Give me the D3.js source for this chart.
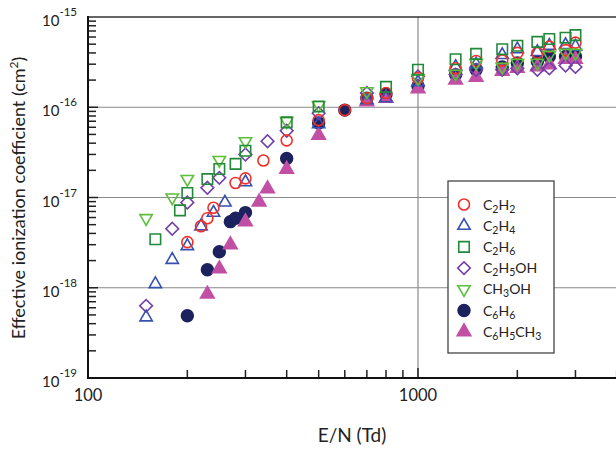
<!DOCTYPE html>
<html><head><meta charset="utf-8">
<script src="https://cdn.jsdelivr.net/npm/d3@7"></script>
<style>body{margin:0;background:#fff}svg{display:block}text{font-family:Lato,"Liberation Sans",sans-serif;fill:#222}</style>
</head><body><svg id="c" width="616" height="451"></svg>
<script>
// Data: [E/N (Td), effective ionization coefficient (cm^2)]
const c2h2 = [[200,3.2e-18],[220,4.8e-18],[230,5.9e-18],[240,7.7e-18],[280,1.45e-17],[300,1.63e-17],[340,2.57e-17],[400,4.3e-17],[500,7.2e-17],[600,9.3e-17],[700,1.26e-16],[800,1.44e-16],[1000,2.1e-16],[1300,2.7e-16],[1500,3.26e-16],[1800,3.3e-16],[2000,4.0e-16],[2300,4.0e-16],[2500,4.7e-16],[2800,4.3e-16],[3000,5.2e-16]];
const c2h4 = [[150,4.7e-19],[160,1.1e-18],[180,2.04e-18],[200,2.9e-18],[220,4.8e-18],[240,6.8e-18],[260,8.8e-18],[300,1.48e-17],[500,6.5e-17],[700,1.2e-16],[800,1.26e-16],[1000,1.9e-16],[1300,2.8e-16],[1500,3.0e-16],[1800,3.8e-16],[2000,4.4e-16],[2300,4.1e-16],[2500,4.8e-16],[2800,4.9e-16],[3000,4.7e-16]];
const c2h6 = [[160,3.45e-18],[190,7.2e-18],[200,1.12e-17],[230,1.6e-17],[250,2.07e-17],[280,2.36e-17],[300,3.3e-17],[400,6.8e-17],[500,1.02e-16],[800,1.68e-16],[1000,2.6e-16],[1300,3.4e-16],[1500,3.9e-16],[1800,4.4e-16],[2000,4.8e-16],[2300,5.3e-16],[2500,5.7e-16],[2800,5.9e-16],[3000,6.3e-16]];
const c2h5oh = [[150,6.3e-19],[180,4.5e-18],[200,8.8e-18],[230,1.28e-17],[250,1.65e-17],[300,3.0e-17],[350,4.2e-17],[400,5.5e-17],[500,8.6e-17],[700,1.44e-16],[1000,2.2e-16],[1300,2.3e-16],[1500,2.6e-16],[1800,2.6e-16],[2000,2.7e-16],[2300,2.6e-16],[2500,2.7e-16],[2800,2.9e-16],[3000,2.8e-16]];
const ch3oh = [[150,5.9e-18],[180,1.0e-17],[200,1.6e-17],[250,2.6e-17],[300,4.2e-17],[400,7.0e-17],[500,1.05e-16],[700,1.5e-16],[1000,2.1e-16],[1300,2.35e-16],[1500,3.1e-16],[1800,2.8e-16],[2000,3.1e-16],[2300,3.1e-16],[2500,3.8e-16],[2800,4.0e-16],[3000,4.0e-16]];
const c6h6 = [[200,4.9e-19],[230,1.58e-18],[250,2.5e-18],[270,5.4e-18],[280,5.9e-18],[300,6.8e-18],[400,2.7e-17],[500,6.7e-17],[600,9.3e-17],[700,1.26e-16],[800,1.4e-16],[1000,1.72e-16],[1300,2.3e-16],[1500,2.6e-16],[1800,2.8e-16],[2000,3.1e-16],[2300,3.2e-16],[2500,3.65e-16],[2800,3.65e-16],[3000,3.65e-16]];
const c6h5ch3 = [[230,8.5e-19],[250,1.62e-18],[270,3.0e-18],[300,5.4e-18],[330,8.9e-18],[350,1.25e-17],[400,2.06e-17],[500,4.9e-17],[700,1.15e-16],[800,1.26e-16],[1000,1.6e-16],[1300,2.0e-16],[1500,2.15e-16],[1800,2.5e-16],[2000,2.7e-16],[2300,2.8e-16],[2500,2.95e-16],[2800,3.4e-16],[3000,3.4e-16]];
const seriesNames = ["C2H2","C2H4","C2H6","C2H5OH","CH3OH","C6H6","C6H5CH3"];
const xTickValues = [100,1000];
const yTickValues = [1e-19,1e-18,1e-17,1e-16,1e-15];
const yTickExponents = ["-19","-18","-17","-16","-15"];

const svg = d3.select("#c");
const L = 88, T = 17, B = 378, RR = 660;
const x = d3.scaleLog().domain([100,1000]).range([L,418]);
const y = d3.scaleLog().domain([1e-19,1e-15]).range([B,T]);

// grid lines
[1e-18,1e-17,1e-16].forEach(v=>{
  svg.append("line").attr("x1",L).attr("x2",RR).attr("y1",y(v)).attr("y2",y(v)).attr("stroke","#8a8a8a").attr("stroke-width",1.2);
});
svg.append("line").attr("x1",x(1000)).attr("x2",x(1000)).attr("y1",T).attr("y2",B).attr("stroke","#8a8a8a").attr("stroke-width",1.2);

// y minor/major ticks (inside)
const yTicks = [];
for (let e=-19;e<-15;e++) for (let m=1;m<10;m++) yTicks.push(m*Math.pow(10,e));
yTicks.forEach(v=>{
  const major = Math.abs(Math.log10(v)-Math.round(Math.log10(v)))<1e-9;
  svg.append("line").attr("x1",L).attr("x2",L+(major?10:8)).attr("y1",y(v)).attr("y2",y(v)).attr("stroke","#222").attr("stroke-width",1.5);
});
// x ticks (inside)
const xTicks = [];
for (let e=2;e<4;e++) for (let m=1;m<10;m++) xTicks.push(m*Math.pow(10,e));
xTicks.forEach(v=>{
  const major = Math.abs(Math.log10(v)-Math.round(Math.log10(v)))<1e-9;
  svg.append("line").attr("x1",x(v)).attr("x2",x(v)).attr("y1",B).attr("y2",B-(major?10:8)).attr("stroke","#222").attr("stroke-width",1.5);
});

// frame
svg.append("line").attr("x1",L).attr("x2",RR).attr("y1",T).attr("y2",T).attr("stroke","#333").attr("stroke-width",1.6);
svg.append("line").attr("x1",L).attr("x2",L).attr("y1",T-1).attr("y2",B+1).attr("stroke","#111").attr("stroke-width",2);
svg.append("line").attr("x1",L-1).attr("x2",RR).attr("y1",B).attr("y2",B).attr("stroke","#111").attr("stroke-width",2);

// y tick labels
yTickValues.forEach((v,i)=>{
  const t = svg.append("text").attr("x",77).attr("y",y(v)+9).attr("text-anchor","end").style("font-size","15px");
  t.append("tspan").text("10");
  t.append("tspan").attr("dy",-10).style("font-size","11.5px").text(yTickExponents[i]);
});
// x tick labels
xTickValues.forEach(v=>{
  svg.append("text").attr("x",x(v)).attr("y",401).attr("text-anchor","middle").style("font-size","16.5px").text(String(v));
});
// axis titles
const yt = svg.append("text").attr("transform","translate(25,198) rotate(-90)").attr("text-anchor","middle").style("font-size","18px");
yt.append("tspan").text("Effective ionization coefficient  (cm");
yt.append("tspan").attr("dy",-7).style("font-size","12px").text("2");
yt.append("tspan").attr("dy",7).text(")");
svg.append("text").attr("x",352).attr("y",442).attr("text-anchor","middle").style("font-size","19px").text("E/N (Td)");

// marker styles
const styles = {
  "C2H2":   {data:c2h2,   type:d3.symbolCircle,   size:95,  rot:0,   stroke:"#f2302a", fill:"none"},
  "C2H4":   {data:c2h4,   type:d3.symbolTriangle, size:66,  rot:0,   stroke:"#3550b0", fill:"none"},
  "C2H6":   {data:c2h6,   type:d3.symbolSquare,   size:110, rot:0,   stroke:"#23893a", fill:"none"},
  "C2H5OH": {data:c2h5oh, type:d3.symbolSquare,   size:80,  rot:45,  stroke:"#7040a8", fill:"none"},
  "CH3OH":  {data:ch3oh,  type:d3.symbolTriangle, size:66,  rot:180, stroke:"#5cbf3a", fill:"none"},
  "C6H6":   {data:c6h6,   type:d3.symbolCircle,   size:110, rot:0,   stroke:"#1b225e", fill:"#1b225e"},
  "C6H5CH3":{data:c6h5ch3,type:d3.symbolTriangle, size:80,  rot:0,   stroke:"#c150a5", fill:"#c150a5"}
};
const drawOrder = ["C6H6","C6H5CH3","C2H5OH","C2H4","C2H2","CH3OH","C2H6"];
drawOrder.forEach(n=>{
  const s = styles[n];
  const sym = d3.symbol().type(s.type).size(s.size);
  svg.append("g").selectAll("path").data(s.data).join("path")
    .attr("d",sym)
    .attr("transform",d=>`translate(${x(d[0])},${y(d[1])}) rotate(${s.rot})`)
    .attr("fill",s.fill).attr("stroke",s.stroke).attr("stroke-width",1.6);
});

// legend
const lg = svg.append("g");
lg.append("rect").attr("x",448).attr("y",181).attr("width",106).attr("height",172).attr("fill","#fff").attr("stroke","#444").attr("stroke-width",1.3);
seriesNames.forEach((n,i)=>{
  const s = styles[n];
  const cy = 204.5 + i*21.2;
  lg.append("path").attr("d",d3.symbol().type(s.type).size(s.size)())
    .attr("transform",`translate(464,${cy}) rotate(${s.rot})`)
    .attr("fill",s.fill).attr("stroke",s.stroke).attr("stroke-width",1.6);
  const t = lg.append("text").attr("x",483).attr("y",cy+5).style("font-size","14px");
  const parts = n.match(/[A-Za-z]+|\d+/g);
  let sub=false;
  parts.forEach(p=>{
    const isNum = /\d/.test(p);
    const ts = t.append("tspan").text(p);
    if (isNum && !sub){ ts.attr("dy",3).style("font-size","10.5px"); sub=true; }
    else if (!isNum && sub){ ts.attr("dy",-3); sub=false; }
    else if (isNum) ts.style("font-size","10.5px");
  });
});
</script></body></html>
